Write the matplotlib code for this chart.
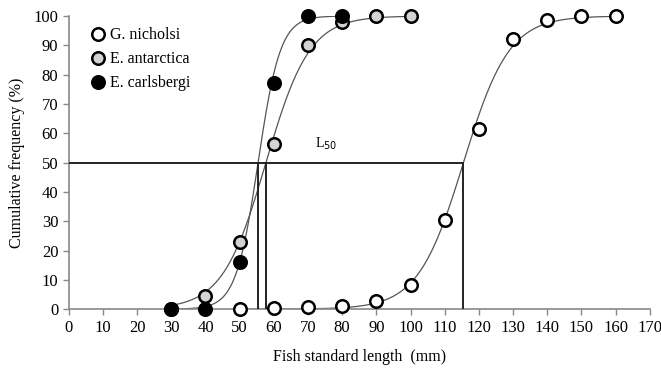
import numpy as np
import matplotlib
matplotlib.use("Agg")
import matplotlib.pyplot as plt
from matplotlib.lines import Line2D

plt.rcParams['font.family'] = ['Liberation Serif', 'DejaVu Serif']

# G. nicholsi
gn_x = [50, 60, 70, 80, 90, 100, 110, 120, 130, 140, 150, 160]
gn_y = [0, 0.5, 0.7, 1.2, 2.7, 8.2, 30.5, 61.5, 92, 98.5, 100, 100]
# E. antarctica
ea_x = [30, 40, 50, 60, 70, 80, 90, 100]
ea_y = [0, 4.5, 23, 56.5, 90, 98, 100, 100]
# E. carlsbergi
ec_x = [30, 40, 50, 60, 70, 80]
ec_y = [0, 0, 16, 77, 100, 100]

# fitted logistic parameters (L50, slope)
gn_l50, gn_k = 115.5, 0.15
ea_l50, ea_k = 57.7, 0.157
ec_l50, ec_k = 55.4, 0.307


def logistic(x, l50, k):
    return 100.0 / (1.0 + np.exp(-k * (x - l50)))


fig = plt.figure(figsize=(6.61, 3.72), dpi=100)
ax = fig.add_axes([0.104, 0.169, 0.879, 0.788])

curve_col = '#555555'
for xs, l50, k in [(gn_x, gn_l50, gn_k), (ea_x, ea_l50, ea_k), (ec_x, ec_l50, ec_k)]:
    xx = np.linspace(xs[0], xs[-1], 300)
    ax.plot(xx, logistic(xx, l50, k), color=curve_col, lw=0.9, zorder=2)

# L50 guide lines
ax.plot([0, gn_l50], [50, 50], color='#222222', lw=1.4, zorder=3)
for l50 in [gn_l50, ea_l50, ec_l50]:
    ax.plot([l50, l50], [0, 50], color='#222222', lw=1.4, zorder=3)

ms = 9
ax.plot(gn_x, gn_y, 'o', ms=ms, mfc='white', mec='black', mew=1.8, ls='none', clip_on=False, zorder=4)
ax.plot(ea_x, ea_y, 'o', ms=ms, mfc='#d3d3d3', mec='black', mew=1.8, ls='none', clip_on=False, zorder=4)
ax.plot(ec_x, ec_y, 'o', ms=ms, mfc='black', mec='black', mew=1.8, ls='none', clip_on=False, zorder=5)

ax.text(72, 53.5, 'L$_{50}$', fontsize=10, ha='left', va='bottom')

ax.set_xlim(0, 170)
ax.set_ylim(0, 100)
ax.set_xticks(range(0, 171, 10))
ax.set_yticks(range(0, 101, 10))
ax.tick_params(axis='both', labelsize=12, direction='out', length=4, width=1, color='#888888')
for s in ['top', 'right']:
    ax.spines[s].set_visible(False)
for s in ['left', 'bottom']:
    ax.spines[s].set_color('#888888')
    ax.spines[s].set_linewidth(1.2)

ax.set_xlabel('Fish standard length  (mm)', fontsize=11.5, labelpad=10)
ax.set_ylabel('Cumulative frequency (%)', fontsize=11.5, labelpad=6)

handles = [
    Line2D([], [], marker='o', ls='none', ms=ms, mfc='white', mec='black', mew=1.8),
    Line2D([], [], marker='o', ls='none', ms=ms, mfc='#d3d3d3', mec='black', mew=1.8),
    Line2D([], [], marker='o', ls='none', ms=ms, mfc='black', mec='black', mew=1.8),
]
ax.legend(handles, ['G. nicholsi', 'E. antarctica', 'E. carlsbergi'],
          loc='upper left', bbox_to_anchor=(0.01, 1.0), frameon=False,
          fontsize=11.5, handletextpad=0.05, labelspacing=0.5, borderpad=0.2,
          handlelength=1.5)

fig.savefig('out.png', dpi=100)
